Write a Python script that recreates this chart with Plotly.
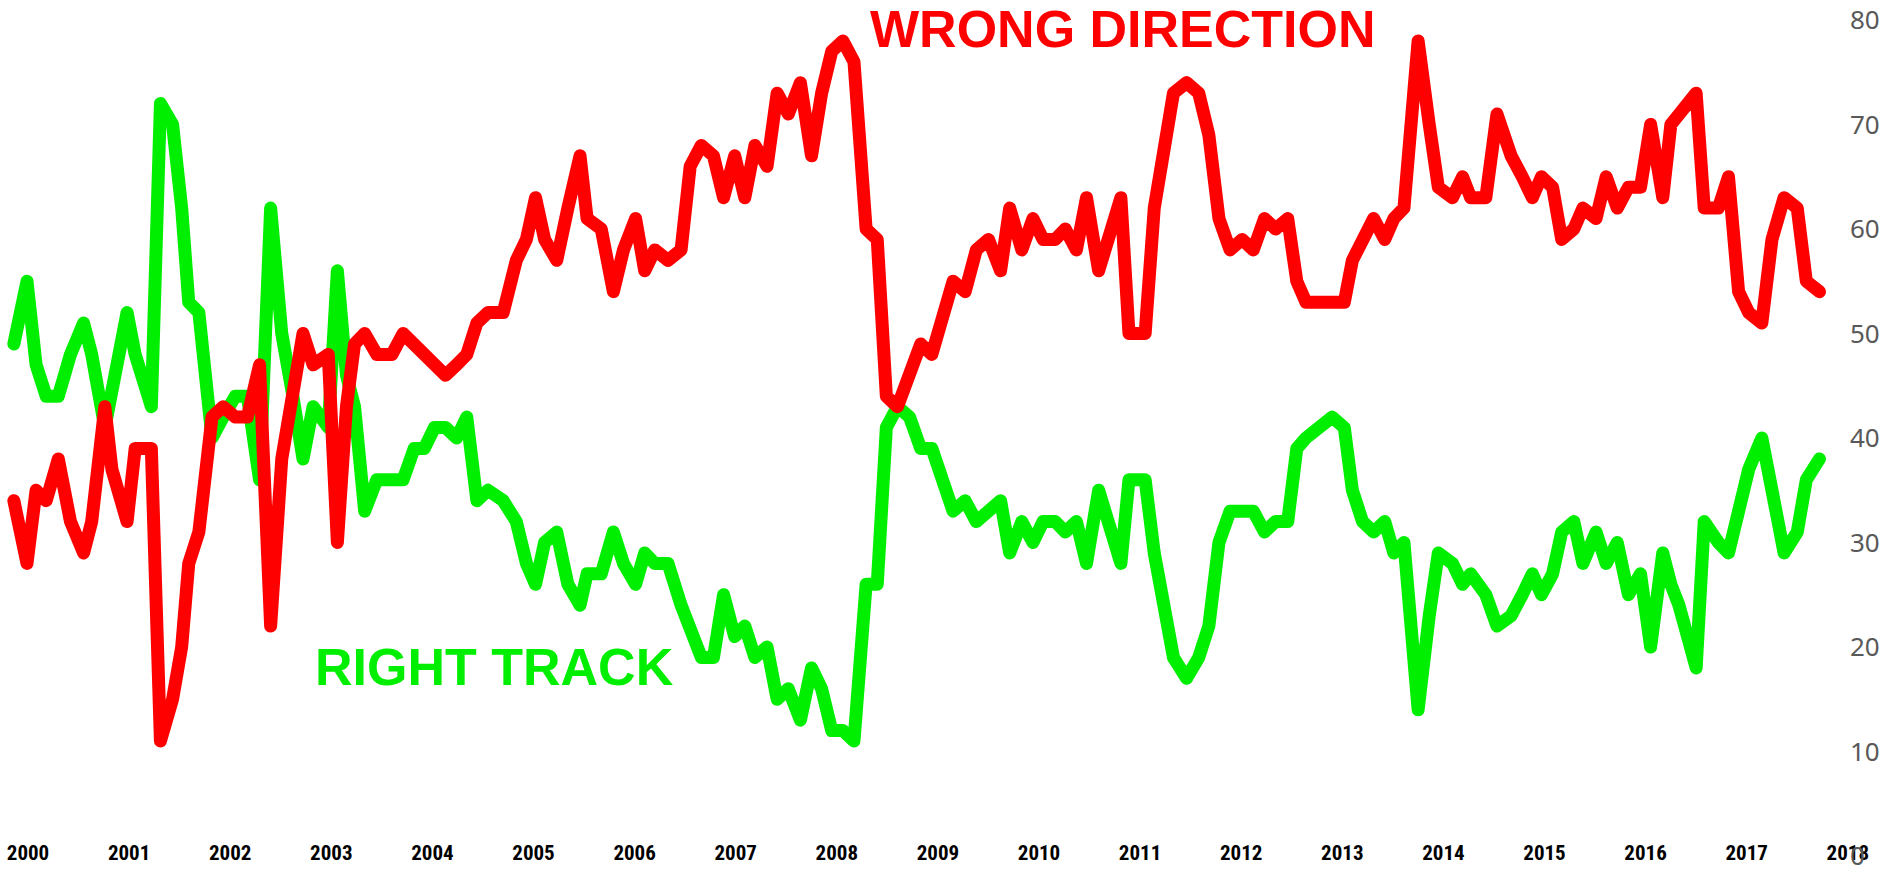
import plotly.graph_objects as go

# Poll dates (decimal years) shared by both series
dates = [
    1999.86, 1999.99, 2000.08, 2000.18, 2000.30, 2000.42, 2000.55, 2000.63, 2000.76, 2000.83,
    2000.98, 2001.06, 2001.22, 2001.31, 2001.43, 2001.52, 2001.59, 2001.69, 2001.82, 2001.93,
    2002.05, 2002.17, 2002.29, 2002.40, 2002.51, 2002.62, 2002.72, 2002.82, 2002.97, 2003.06,
    2003.15, 2003.23, 2003.33, 2003.45, 2003.60, 2003.71, 2003.82, 2003.92, 2004.02, 2004.13,
    2004.24, 2004.34, 2004.44, 2004.55, 2004.70, 2004.83, 2004.93, 2005.02, 2005.11, 2005.23,
    2005.34, 2005.46, 2005.53, 2005.67, 2005.79, 2005.89, 2006.01, 2006.10, 2006.20, 2006.33,
    2006.46, 2006.55, 2006.66, 2006.78, 2006.88, 2006.99, 2007.09, 2007.19, 2007.31, 2007.41,
    2007.52, 2007.64, 2007.75, 2007.85, 2007.95, 2008.06, 2008.17, 2008.29, 2008.40, 2008.49,
    2008.60, 2008.72, 2008.83, 2008.94, 2009.05, 2009.15, 2009.27, 2009.38, 2009.50, 2009.62,
    2009.71, 2009.83, 2009.94, 2010.04, 2010.16, 2010.26, 2010.37, 2010.47, 2010.59, 2010.70,
    2010.81, 2010.89, 2011.05, 2011.14, 2011.22, 2011.33, 2011.46, 2011.58, 2011.68, 2011.78,
    2011.89, 2012.01, 2012.12, 2012.23, 2012.34, 2012.46, 2012.55, 2012.64, 2012.77, 2012.90,
    2013.02, 2013.10, 2013.20, 2013.31, 2013.42, 2013.51, 2013.61, 2013.75, 2013.86, 2013.95,
    2014.09, 2014.19, 2014.27, 2014.42, 2014.53, 2014.67, 2014.78, 2014.88, 2014.97, 2015.08,
    2015.17, 2015.29, 2015.38, 2015.51, 2015.61, 2015.72, 2015.83, 2015.95, 2016.05, 2016.17,
    2016.25, 2016.33, 2016.50, 2016.58, 2016.72, 2016.82, 2016.92, 2017.02, 2017.15, 2017.25,
    2017.37, 2017.50, 2017.59, 2017.72,
]

wrong_direction = [
    34, 28, 35, 34, 38, 32, 29, 32, 43, 37,
    32, 39, 39, 11, 15, 20, 28, 31, 42, 43,
    42, 42, 47, 22, 38, 45, 50, 47, 48, 30,
    43, 49, 50, 48, 48, 50, 49, 48, 47, 46,
    47, 48, 51, 52, 52, 57, 59, 63, 59, 57,
    62, 67, 61, 60, 54, 58, 61, 56, 58, 57,
    58, 66, 68, 67, 63, 67, 63, 68, 66, 73,
    71, 74, 67, 73, 77, 78, 76, 60, 59, 44,
    43, 46, 49, 48, 52, 55, 54, 58, 59, 56,
    62, 58, 61, 59, 59, 60, 58, 63, 56, 60,
    63, 50, 50, 62, 67, 73, 74, 73, 69, 61,
    58, 59, 58, 61, 60, 61, 55, 53, 53, 53,
    53, 57, 59, 61, 59, 61, 62, 78, 70, 64,
    63, 65, 63, 63, 71, 67, 65, 63, 65, 64,
    59, 60, 62, 61, 65, 62, 64, 64, 70, 63,
    70, 71, 73, 62, 62, 65, 54, 52, 51, 59,
    63, 62, 55, 54,
]

right_track = [
    49, 55, 47, 44, 44, 48, 51, 48, 41, 45,
    52, 48, 43, 72, 70, 62, 53, 52, 40, 42,
    44, 44, 36, 62, 50, 44, 38, 43, 41, 56,
    46, 43, 33, 36, 36, 36, 39, 39, 41, 41,
    40, 42, 34, 35, 34, 32, 28, 26, 30, 31,
    26, 24, 27, 27, 31, 28, 26, 29, 28, 28,
    24, 22, 19, 19, 25, 21, 22, 19, 20, 15,
    16, 13, 18, 16, 12, 12, 11, 26, 26, 41,
    43, 42, 39, 39, 36, 33, 34, 32, 33, 34,
    29, 32, 30, 32, 32, 31, 32, 28, 35, 31,
    28, 36, 36, 29, 25, 19, 17, 19, 22, 30,
    33, 33, 33, 31, 32, 32, 39, 40, 41, 42,
    41, 35, 32, 31, 32, 29, 30, 14, 23, 29,
    28, 26, 27, 25, 22, 23, 25, 27, 25, 27,
    31, 32, 28, 31, 28, 30, 25, 27, 20, 29,
    26, 24, 18, 32, 30, 29, 33, 37, 40, 35,
    29, 31, 36, 38,
]

years = list(range(2000, 2019))
year_labels = [str(y) for y in years]
y_ticks = [0, 10, 20, 30, 40, 50, 60, 70, 80]

RED = "#FF0000"
GREEN = "#00EE00"

fig = go.Figure()
fig.add_trace(go.Scatter(x=dates, y=right_track, mode="lines",
                         line=dict(color=GREEN, width=13), name="Right track",
                         hoverinfo="x+y"))
fig.add_trace(go.Scatter(x=dates, y=wrong_direction, mode="lines",
                         line=dict(color=RED, width=13), name="Wrong direction",
                         hoverinfo="x+y"))

fig.add_annotation(text="WRONG DIRECTION", xref="paper", yref="paper",
                   x=0.6074, y=0.989, xanchor="center", yanchor="middle",
                   showarrow=False,
                   font=dict(family="Liberation Sans, Arial, sans-serif", size=52,
                             color=RED, weight=700))
fig.add_annotation(text="RIGHT TRACK", xref="paper", yref="paper",
                   x=0.2674, y=0.2256, xanchor="center", yanchor="middle",
                   showarrow=False,
                   font=dict(family="Liberation Sans, Arial, sans-serif", size=52,
                             color=GREEN, weight=700))

fig.update_layout(
    width=1889, height=873, autosize=False,
    margin=dict(l=0, r=40, t=20, b=13, pad=0),
    paper_bgcolor="white", plot_bgcolor="white",
    showlegend=False,
    xaxis=dict(
        range=[1999.723, 2018.012],
        tickmode="array", tickvals=years, ticktext=year_labels,
        showgrid=False, zeroline=False, showline=False, ticks="",
        anchor="free", position=0.0214,
        tickfont=dict(family="Liberation Sans Narrow, Arial Narrow, Roboto Condensed, Liberation Sans, sans-serif",
                      size=21, color="#000000", weight=700),
    ),
    yaxis=dict(
        range=[0, 80], side="right",
        tickmode="array", tickvals=y_ticks,
        showgrid=False, zeroline=False, showline=False, ticks="", ticklen=0,
        ticklabeloverflow="allow",
        tickfont=dict(family="Noto Sans, Open Sans, sans-serif", size=26, color="#595959"),
    ),
)

post = """
document.body.style.margin='0';
document.body.style.padding='0';
document.querySelectorAll('.js-line').forEach(function(p){
  p.style.strokeLinejoin='round'; p.style.strokeLinecap='round';
});
"""
fig.write_html("out.html", post_script=post, config={"displayModeBar": False})
